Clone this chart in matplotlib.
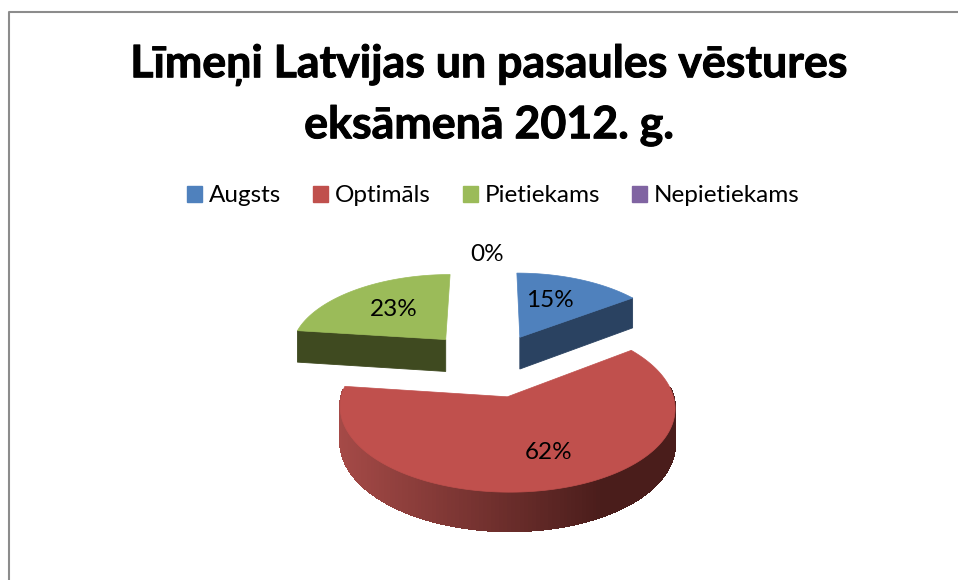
import matplotlib
import matplotlib.pyplot as plt
import matplotlib.patheffects as pe
import numpy as np
from matplotlib.colors import to_rgb
from matplotlib.patches import Patch, Polygon

matplotlib.use('Agg')
plt.rcParams['font.family'] = ['Lato', 'DejaVu Sans']

title = "Līmeņi Latvijas un pasaules vēstures\neksāmenā 2012. g."
categories = ["Augsts", "Optimāls", "Pietiekams", "Nepietiekams"]
shares = [15, 62, 23, 0]
explode = [0.42, 0.42, 0.42, 0.42]

top_colors = ['#4F81BD', '#C0504D', '#9BBB59', '#8064A2']
wall_left = ['#2A4261', '#A54A47', '#3F4A20', '#403151']
wall_right = ['#2A4261', '#4A1D1B', '#3F4A20', '#403151']

# screen offsets for the slices and the percent labels
slice_nudge = [(1, 1), (0, 0), (-2, -1), (0, 0)]
label_nudge = [(-6, 0), (13, 3), (1, 0), (-3, -39)]

# tilted view of the unit pie, in pixels
CX, CY = 490, 364
SX, SY = 158, 77
PERSP_X = 0.12
PERSP_Y = 0.11
DEPTH = 33


def project(x, y, z=0.0):
    wx = 1 + PERSP_X * np.asarray(y)
    wy = 1 + PERSP_Y * np.asarray(y)
    return CX + SX * np.asarray(x) / wx, CY - SY * np.asarray(y) / wy + DEPTH * z / wy


fig = plt.figure(figsize=(9.58, 5.8), dpi=100)
ax = fig.add_axes([0, 0, 1, 1])

# pie() works out the angles and the explode offsets
wedges, _, autotexts = ax.pie(shares, explode=explode, startangle=90, counterclock=False,
                              autopct=lambda p: f"{p:.0f}%", pctdistance=0.6,
                              normalize=True)
ax.set_xlim(0, 958)
ax.set_ylim(580, 0)
ax.set_aspect('auto')
ax.axis('off')

for i, w in enumerate(wedges):
    w.set_visible(False)
    t1, t2 = sorted((w.theta1, w.theta2))
    if t2 - t1 < 0.01:
        continue
    ox, oy = w.center
    nx, ny = slice_nudge[i]
    a = np.radians(np.linspace(t1, t2, 181))
    ax_, ay_ = ox + np.cos(a), oy + np.sin(a)

    # outer wall, strip by strip, only the part facing the viewer
    xs0, ys0 = project(ax_, ay_)
    xs1, ys1 = project(ax_, ay_, 1)
    xs0, xs1 = xs0 + nx, xs1 + nx
    ys0, ys1 = ys0 + ny, ys1 + ny
    lo, hi = xs0.min(), xs0.max()
    c0, c1 = np.array(to_rgb(wall_left[i])), np.array(to_rgb(wall_right[i]))
    for j in range(len(a) - 1):
        if np.sin(a[j]) > 0.1:
            continue
        f = min(1, (xs0[j] - lo) / (0.78 * (hi - lo)))
        col = c0 + (c1 - c0) * f
        ax.add_patch(Polygon([(xs0[j], ys0[j]), (xs0[j + 1], ys0[j + 1]),
                              (xs1[j + 1], ys1[j + 1]), (xs1[j], ys1[j])],
                             facecolor=col, edgecolor=col, lw=0.8, antialiased=False))

    # cut faces that look towards the viewer
    for end, normal in ((t1, t1 - 90), (t2, t2 + 90)):
        if np.sin(np.radians(normal)) < -1e-3:
            ex, ey = ox + np.cos(np.radians(end)), oy + np.sin(np.radians(end))
            pts = np.array([project(ox, oy), project(ex, ey), project(ex, ey, 1), project(ox, oy, 1)])
            pts = pts + (nx, ny)
            col = wall_left[i]
            ax.add_patch(Polygon(pts, facecolor=col, edgecolor=col, lw=0.6))

    # top face
    px, py = project(np.r_[ox, ax_], np.r_[oy, ay_])
    ax.add_patch(Polygon(np.c_[px + nx, py + ny], facecolor=top_colors[i],
                         edgecolor=top_colors[i], lw=0.5))

for txt, (dx, dy) in zip(autotexts, label_nudge):
    x, y = txt.get_position()
    sx, sy = project(x, y)
    txt.set_position((sx + dx, sy + dy))
    txt.set_fontsize(17.5)
    txt.set_color('black')
    txt.set_zorder(5)

# chart frame: only left and top are in the picture
ax.plot([9, 9, 958], [585, 11.5, 11.5], color='#8C8C8C', lw=1.5)

ax.text(489, 95, title, ha='center', va='center', fontsize=32.2, fontweight='bold',
        color='black', linespacing=1.53,
        path_effects=[pe.withStroke(linewidth=0.7, foreground='black')])

handles = [Patch(facecolor=c, edgecolor=c) for c in top_colors]
ax.legend(handles, categories, loc='center', bbox_to_anchor=(493.5, 196),
          bbox_transform=ax.transData, ncol=4, frameon=False, fontsize=17.5,
          handlelength=0.62, handleheight=0.62, handletextpad=0.29, columnspacing=1.3,
          borderpad=0, labelcolor='black')

fig.savefig("out.png", dpi=100)
plt.close()
